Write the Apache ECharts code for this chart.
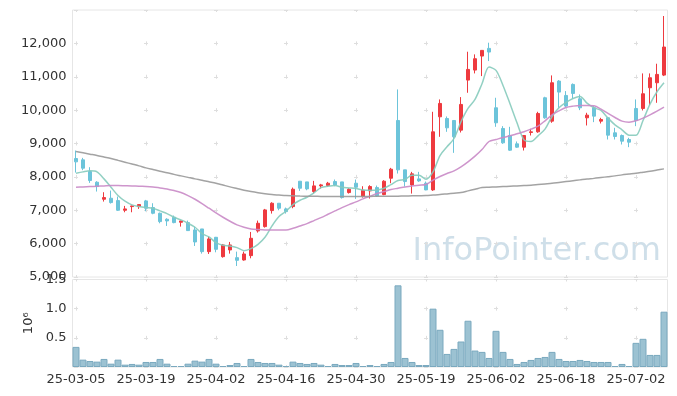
<!DOCTYPE html>
<html>
<head>
<meta charset="utf-8">
<script src="https://cdn.jsdelivr.net/npm/echarts@6/dist/echarts.min.js"></script>
<style>
html,body{margin:0;padding:0;background:#fff;}
#chart{width:677px;height:396px;}
</style>
</head>
<body>
<div id="chart"></div>
<script>
// ---- data ----
const dates = ['25-03-05','25-03-06','25-03-07','25-03-10','25-03-11','25-03-12','25-03-13','25-03-14','25-03-17','25-03-18','25-03-19','25-03-20','25-03-21','25-03-24','25-03-25','25-03-26','25-03-27','25-03-28','25-03-31','25-04-01','25-04-02','25-04-03','25-04-04','25-04-07','25-04-08','25-04-09','25-04-10','25-04-11','25-04-14','25-04-15','25-04-16','25-04-17','25-04-18','25-04-21','25-04-22','25-04-23','25-04-24','25-04-25','25-04-28','25-04-29','25-04-30','25-05-02','25-05-07','25-05-08','25-05-09','25-05-12','25-05-13','25-05-14','25-05-15','25-05-16','25-05-19','25-05-20','25-05-21','25-05-22','25-05-23','25-05-26','25-05-27','25-05-28','25-05-29','25-05-30','25-06-02','25-06-04','25-06-05','25-06-09','25-06-10','25-06-11','25-06-12','25-06-13','25-06-16','25-06-17','25-06-18','25-06-19','25-06-20','25-06-23','25-06-24','25-06-25','25-06-26','25-06-27','25-06-30','25-07-01','25-07-02','25-07-03','25-07-04','25-07-07','25-07-08'];

const openP  = [8550,8510,8160,7840,7330,7360,7290,7000,7110,7110,7280,7080,6910,6730,6790,6640,6630,6410,6440,5760,6190,5610,5810,5580,5510,5640,6380,6510,6990,7210,7040,7110,7870,7850,7560,7730,7740,7860,7850,7530,7810,7410,7580,7680,7470,7960,9690,8210,7760,7940,7810,7610,9800,9750,9690,9400,10900,11200,11620,11850,10070,9450,9240,8990,8890,9330,9350,10370,9670,10870,10440,10770,10340,9770,10070,9670,9770,9320,9240,9120,10050,10050,10670,10820,11050];
const closeP = [8450,8260,7890,7710,7380,7230,7000,7040,7130,7170,7060,6910,6660,6680,6630,6680,6390,6050,5760,6140,5830,5960,5960,5500,5690,6160,6610,7010,7210,7060,6960,7630,7660,7640,7730,7760,7810,7760,7380,7630,7690,7600,7710,7430,7870,8230,8210,7860,8090,7880,7610,9350,10200,9470,9200,10170,11220,11540,11790,11740,9620,9020,8800,8890,9240,9350,9900,9770,10820,10540,10120,10500,10070,9850,9820,9720,9250,9210,9070,9040,9690,10490,10970,11070,11890];
const lowP   = [8130,8200,7820,7560,7260,7200,6980,6940,6940,7040,6970,6880,6610,6530,6610,6510,6380,5930,5700,5690,5740,5580,5700,5330,5490,5560,6330,6480,6900,7000,6900,7060,7580,7600,7500,7650,7700,7720,7350,7500,7340,7380,7350,7400,7450,7810,8100,7710,7500,7850,7600,7580,9200,9350,8720,9330,10520,11100,11020,11470,9500,8990,8780,8870,8790,9240,9320,9740,9620,10070,10080,10340,10000,9540,9640,9600,9120,9120,8970,8890,9520,9990,10150,10220,11020];
const highP  = [8790,8570,8290,7870,7540,7590,7410,7130,7140,7180,7310,7210,6930,6760,6840,6690,6690,6510,6440,6210,6200,5990,6050,5760,5760,6350,6690,7040,7240,7210,7080,7680,7870,7850,7880,7790,7850,7920,7850,7660,7920,7720,7750,7740,7900,8270,10620,8210,8150,8150,7860,9950,10320,9810,9700,10390,11750,11670,11790,12020,10370,9520,9500,9060,9240,9440,9950,10400,11040,10900,10570,10800,10470,9920,10120,9770,9780,9470,9270,9170,10320,11100,11100,11390,12820];

const ma5  = [8110,8150,8180,8150,7940,7690,7440,7270,7160,7110,7080,7060,6980,6900,6790,6710,6610,6490,6300,6200,6030,5950,5930,5880,5790,5850,5980,6190,6530,6810,6970,7170,7300,7390,7520,7680,7720,7740,7690,7670,7650,7610,7600,7610,7660,7770,7890,7920,8050,8050,7930,8150,8640,8900,9150,9650,10050,10320,10790,11290,11190,10740,10190,9620,9110,9060,9230,9430,9810,10070,10230,10350,10410,10210,10070,9990,9760,9560,9410,9250,9250,9690,10180,10550,10820];
const ma20 = [7690,7700,7710,7720,7730,7740,7740,7735,7730,7720,7715,7700,7670,7640,7590,7530,7440,7330,7200,7060,6920,6790,6670,6560,6490,6440,6420,6410,6410,6410,6410,6460,6530,6600,6690,6780,6880,6980,7080,7170,7250,7340,7420,7500,7560,7620,7660,7700,7730,7750,7770,7900,8010,8100,8180,8300,8450,8620,8820,9060,9120,9180,9230,9290,9350,9430,9520,9680,9860,9980,10080,10120,10140,10140,10130,10030,9900,9780,9670,9640,9680,9760,9860,9970,10090];
const ma60 = [8760,8720,8680,8640,8595,8550,8495,8440,8385,8330,8270,8220,8170,8125,8075,8030,7985,7940,7900,7855,7810,7755,7700,7650,7600,7560,7525,7495,7470,7455,7440,7432,7425,7420,7417,7415,7414,7413,7412,7412,7412,7413,7415,7417,7419,7420,7423,7427,7432,7436,7440,7455,7470,7490,7510,7530,7580,7630,7680,7690,7700,7710,7720,7730,7740,7750,7770,7790,7810,7835,7860,7885,7910,7935,7955,7980,8005,8030,8060,8085,8110,8140,8170,8205,8240];

// volume in millions
const volume = [0.345,0.126,0.103,0.092,0.138,0.057,0.126,0.040,0.052,0.040,0.086,0.086,0.138,0.057,0.017,0.017,0.057,0.109,0.092,0.138,0.057,0.017,0.034,0.069,0.017,0.138,0.086,0.069,0.069,0.040,0.017,0.092,0.069,0.052,0.069,0.040,0.017,0.052,0.034,0.034,0.069,0.017,0.034,0.017,0.052,0.086,1.400,0.155,0.086,0.034,0.034,1.000,0.638,0.224,0.310,0.437,0.793,0.282,0.259,0.155,0.620,0.259,0.138,0.052,0.086,0.121,0.155,0.172,0.259,0.138,0.103,0.103,0.121,0.103,0.086,0.086,0.086,0.017,0.052,0.017,0.414,0.483,0.207,0.207,0.948];

const priceTicks = {min: 5000, max: 13000, interval: 1000};
const volTicks = {min: 0, max: 1.5, interval: 0.5};

// ---- chart ----
const candles = dates.map((d, i) => [openP[i], closeP[i], lowP[i], highP[i]]);
const UP = '#ee3a3f', DOWN = '#6cc4da';
const font = 'DejaVu Sans';
const g0 = {left: 72.5, top: 10, width: 595, height: 267};
const g1 = {left: 72.5, top: 279.5, width: 595, height: 87.5};
const stepX = g0.width / dates.length * 10;
const step0 = g0.height / ((priceTicks.max - priceTicks.min) / priceTicks.interval);
const step1 = g1.height / ((volTicks.max - volTicks.min) / volTicks.interval);
const dashLen = 4;
const gridColor = '#dedede';

const chart = echarts.init(document.getElementById('chart'), null, {renderer: 'canvas'});
chart.setOption({
  animation: false,
  backgroundColor: '#fff',
  textStyle: {fontFamily: font},
  grid: [
    Object.assign({show: true, borderColor: '#e6e6e6', borderWidth: 1}, g0),
    Object.assign({show: true, borderColor: '#e6e6e6', borderWidth: 1}, g1)
  ],
  xAxis: [
    {type: 'category', data: dates, gridIndex: 0, boundaryGap: true,
     axisLine: {show: false}, axisTick: {show: false}, axisLabel: {show: false},
     splitLine: {show: true, interval: 9, alignWithLabel: true,
       lineStyle: {color: gridColor, type: [dashLen, step0 - dashLen], dashOffset: dashLen / 2}}},
    {type: 'category', data: dates, gridIndex: 1, boundaryGap: true,
     axisLine: {show: false}, axisTick: {show: false},
     axisLabel: {interval: 9, color: '#333', fontSize: 13, fontFamily: font, margin: 6},
     splitLine: {show: true, interval: 9, alignWithLabel: true,
       lineStyle: {color: gridColor, type: [dashLen, step1 - dashLen], dashOffset: dashLen / 2}}}
  ],
  yAxis: [
    {type: 'value', gridIndex: 0, min: priceTicks.min, max: priceTicks.max, interval: priceTicks.interval,
     axisLine: {show: false}, axisTick: {show: false},
     axisLabel: {color: '#333', fontSize: 13, fontFamily: font, margin: 6, showMaxLabel: false},
     splitLine: {show: true, lineStyle: {color: gridColor, type: [dashLen, stepX - dashLen], dashOffset: -(stepX / 20 - dashLen / 2)}}},
    {type: 'value', gridIndex: 1, min: volTicks.min, max: volTicks.max, interval: volTicks.interval,
     name: '10⁶', nameLocation: 'middle', nameRotate: 90, nameGap: 32,
     nameTextStyle: {color: '#333', fontSize: 13, fontFamily: font},
     axisLine: {show: false}, axisTick: {show: false},
     axisLabel: {color: '#333', fontSize: 13, fontFamily: font, margin: 6, showMinLabel: false,
       formatter: v => v.toFixed(1)},
     splitLine: {show: true, lineStyle: {color: gridColor, type: [dashLen, stepX - dashLen], dashOffset: -(stepX / 20 - dashLen / 2)}}}
  ],
  graphic: [{
    type: 'text', right: 16, top: 236, z: 0,
    style: {text: 'InfoPointer.com', fontFamily: font, fontSize: 32, fill: 'rgba(175,202,218,0.6)'}
  }],
  series: [
    {type: 'candlestick', name: 'price', xAxisIndex: 0, yAxisIndex: 0, data: candles, barWidth: 4,
     itemStyle: {color: UP, color0: DOWN, borderColor: UP, borderColor0: DOWN, borderWidth: 1}},
    {type: 'line', name: 'MA5', data: ma5, smooth: 0.3, showSymbol: false, xAxisIndex: 0, yAxisIndex: 0,
     lineStyle: {color: '#86cbbd', width: 1.5, opacity: 0.9}},
    {type: 'line', name: 'MA20', data: ma20, smooth: 0.3, showSymbol: false, xAxisIndex: 0, yAxisIndex: 0,
     lineStyle: {color: '#c98ac6', width: 1.5, opacity: 0.9}},
    {type: 'line', name: 'MA60', data: ma60, smooth: 0.3, showSymbol: false, xAxisIndex: 0, yAxisIndex: 0,
     lineStyle: {color: '#999999', width: 1.5, opacity: 0.9}},
    {type: 'bar', name: 'volume', data: volume, xAxisIndex: 1, yAxisIndex: 1, barWidth: '100%', barCategoryGap: 0,
     itemStyle: {color: '#9cc2d2', borderColor: '#7aa9bf', borderWidth: 1}}
  ]
});
</script>
</body>
</html>
